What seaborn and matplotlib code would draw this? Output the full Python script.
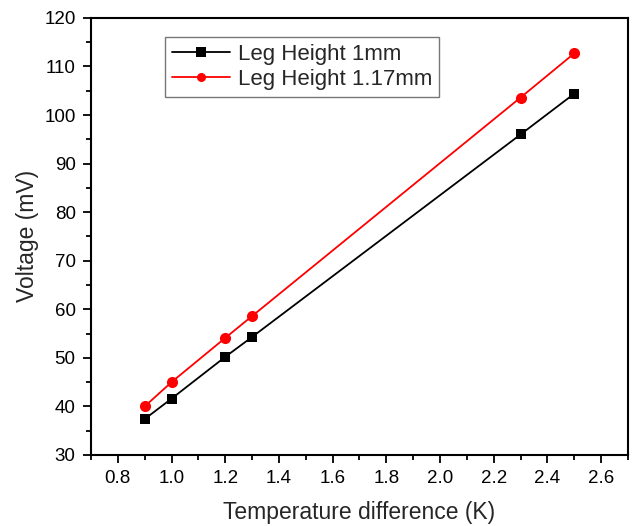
import numpy as np
import pandas as pd
import matplotlib
matplotlib.use("Agg")
import matplotlib.pyplot as plt
from matplotlib.ticker import MultipleLocator
import seaborn as sns

# Measured thermoelectric output vs. temperature difference
delta_t = [0.9, 1.0, 1.2, 1.3, 2.3, 2.5]
voltage_1mm = [37.4, 41.6, 50.2, 54.3, 96.0, 104.4]
voltage_117mm = [40.0, 45.0, 54.1, 58.6, 103.6, 112.7]
series_names = ["Leg Height 1mm", "Leg Height 1.17mm"]

df = pd.DataFrame({
    "dT": delta_t * 2,
    "V": voltage_1mm + voltage_117mm,
    "series": [series_names[0]] * len(delta_t) + [series_names[1]] * len(delta_t),
})

sns.set_style("white")
plt.rcParams["font.family"] = ["Liberation Sans", "DejaVu Sans"]

fig = plt.figure(figsize=(6.34, 5.26), dpi=100)
ax = fig.add_axes([0.1435, 0.135, 0.847, 0.831])

sns.lineplot(
    data=df, x="dT", y="V", hue="series", style="series",
    palette={series_names[0]: "black", series_names[1]: "#ff0000"},
    markers={series_names[0]: "s", series_names[1]: "o"},
    dashes=False, markeredgewidth=0, linewidth=1.3, ax=ax,
)
for line, ms in zip(ax.get_lines()[:2], [7, 8]):
    line.set_markersize(ms)

ax.set_xlim(0.7, 2.7)
ax.set_ylim(30, 120)
ax.xaxis.set_minor_locator(MultipleLocator(0.1))
ax.yaxis.set_major_locator(MultipleLocator(10))
ax.yaxis.set_minor_locator(MultipleLocator(5))
ax.set_xticks(np.arange(0.8, 2.61, 0.2))
ax.set_xticklabels([f"{v:.1f}" for v in np.arange(0.8, 2.61, 0.2)])

for s in ax.spines.values():
    s.set_linewidth(1.5)
    s.set_color("black")
ax.tick_params(which="both", direction="out", top=False, right=False,
               left=True, bottom=True, width=1.3, colors="black")
ax.tick_params(which="major", length=6, labelsize=13.5, pad=5)
ax.tick_params(which="minor", length=3.5)

ax.set_xlabel("Temperature difference (K)", fontsize=16.5, labelpad=10)
ax.set_ylabel("Voltage (mV)", fontsize=16.5, labelpad=4)

handles, labels = ax.get_legend_handles_labels()
leg = ax.legend(handles, labels, loc="upper left", bbox_to_anchor=(0.138, 0.9565),
                borderaxespad=0, fontsize=16, frameon=True, fancybox=False,
                edgecolor="#555555", handlelength=2.6, borderpad=0.3,
                labelspacing=0.2, handletextpad=0.4)
leg.get_frame().set_linewidth(1.0)
for h in leg.legend_handles:
    h.set_markersize(6.5)

fig.savefig("out.png", dpi=100)
